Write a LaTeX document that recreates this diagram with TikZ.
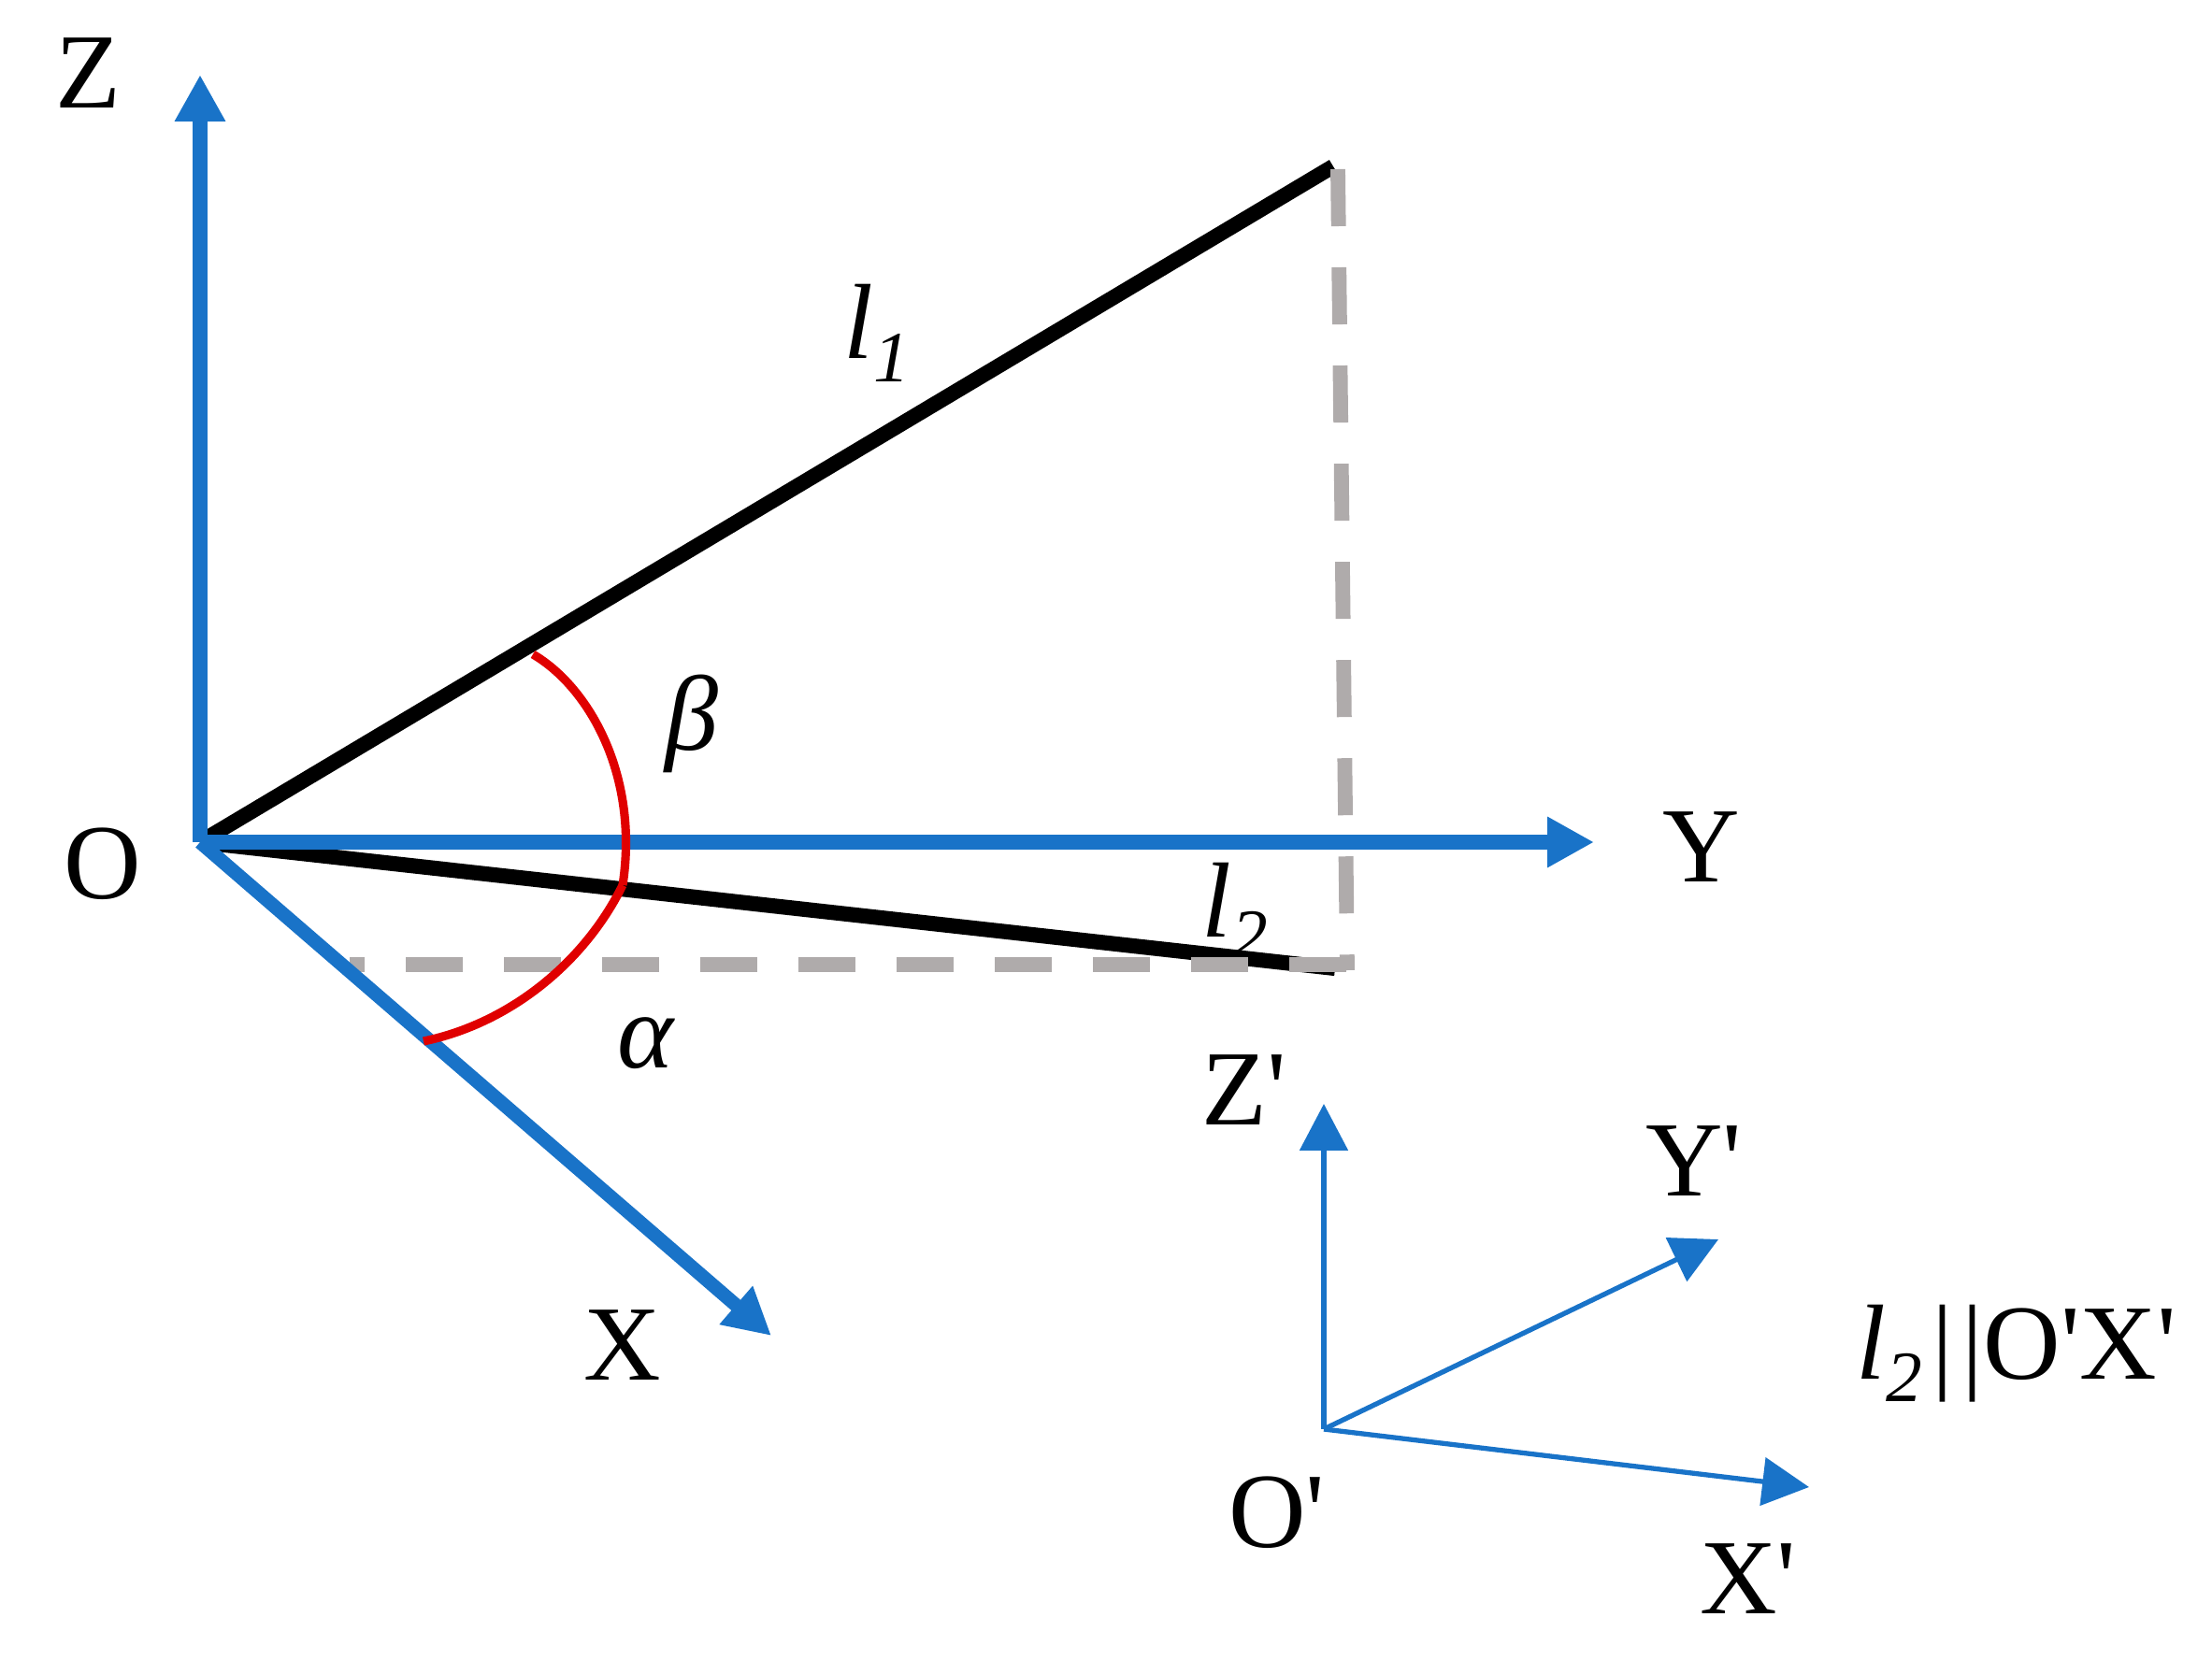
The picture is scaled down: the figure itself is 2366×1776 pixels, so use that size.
\documentclass[tikz,border=0pt]{standalone}
\usepackage{xcolor}
\usepackage{fontspec}
\setmainfont{Liberation Serif}
\usetikzlibrary{arrows.meta}
\definecolor{axisblue}{HTML}{1973C8}
\definecolor{dashgrey}{HTML}{AFABAB}
\definecolor{arcred}{HTML}{E00000}
\newcommand{\prm}{\textquotesingle}
\newcommand{\sublab}[1]{\textit{l}\raisebox{-7pt}{\fontsize{22}{24}\selectfont\textit{#1}}}
\tikzstyle{bigaxis} = [draw=axisblue,line width=4.5pt,-{Triangle[length=14.2pt,width=14.5pt]}]
\tikzstyle{smallaxis} = [draw=axisblue,line width=1.5pt,-{Triangle[length=14.2pt,width=14.5pt]}]
\tikzstyle{ray} = [draw=black,line width=4.6pt]
\tikzstyle{guide} = [draw=dashgrey,line width=4.5pt,dash pattern=on 17.35pt off 12.52pt]
\tikzstyle{anglearc} = [draw=arcred,line width=2.6pt]
\tikzset{lab/.style={anchor=base,inner sep=0pt,font=\fontsize{32.5}{36}\selectfont}}

\begin{document}
\begin{tikzpicture}[x=0.01cm,y=-0.01cm]
 \useasboundingbox (0,0) rectangle (2366,1776);

 %Labels
 \foreach \x/\y/\name/\label in {94/116/labZ/Z, 110/961/labO/O, 1820/943/labY/Y, 666/1476/labX/X,
          1331/1203/labZp/Z\prm, 1812/1279/labYp/Y\prm, 1366/1655/labOp/O\prm, 1870/1726/labXp/X\prm,
          2157/1475/labpar/{\sublab{2}\kern3pt|\kern2.6pt|O\prm X\prm},
          740/802/labb/{\textit{β}}, 691/1142/laba/{\textit{α}},
          938/384/labl1/{\sublab{1}}, 1321/1002/labl2/{\sublab{2}}}
          \node[lab] (\name) at (\x,\y) {\label};

 %Main axes
 \coordinate (O) at (214,901);
 \coordinate (Ztip) at (214,80);
 \coordinate (Ytip) at (1705,901);
 \coordinate (Xtip) at (825,1429);
 \coordinate (L1) at (1426,178);
 \coordinate (L2) at (1428,1036);

 \path[ray] (O) -- (L1);
 \path[ray] (O) -- (L2);

 %Projections
 \coordinate (G1) at (1431,181);
 \coordinate (G2) at (1441,1038);
 \coordinate (G3) at (374,1032);
 \coordinate (G4) at (1441,1032);
 \path[guide] (G1) -- (G2);
 \path[guide,dash phase=12.8pt] (G3) -- (G4);

 \path[bigaxis] (O) -- (Ztip);
 \path[bigaxis] (O) -- (Ytip);
 \path[bigaxis,line width=4.2pt] (O) -- (Xtip);

 %Angles
 \coordinate (A1) at (570,700);
 \coordinate (A2) at (666,947);
 \coordinate (A3) at (453,1114);
 \path[anglearc] (A1) .. controls (630,735) and (684,830) .. (A2);
 \path[anglearc] (A2) .. controls (625,1030) and (545,1095) .. (A3);

 %Small frame
 \coordinate (Op) at (1416,1529);
 \coordinate (Zptip) at (1416,1181);
 \coordinate (Yptip) at (1838,1326);
 \coordinate (Xptip) at (1935,1591);
 \path[smallaxis] (Op) -- (Zptip);
 \path[smallaxis] (Op) -- (Yptip);
 \path[smallaxis] (Op) -- (Xptip);
\end{tikzpicture}
\end{document}
